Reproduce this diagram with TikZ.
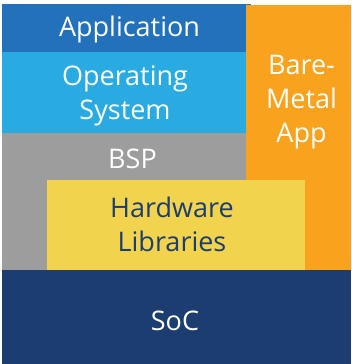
\documentclass[tikz,border=0pt]{standalone}
\usepackage{fontspec}
\setmainfont{Open Sans}
\definecolor{appblue}{HTML}{2271BA}
\definecolor{osblue}{HTML}{29ABE2}
\definecolor{bspgray}{HTML}{9D9D9D}
\definecolor{bareorange}{HTML}{F8A21D}
\definecolor{hwyellow}{HTML}{F2D34D}
\definecolor{socnavy}{HTML}{1C3D6F}
\begin{document}
\begin{tikzpicture}[x=1pt,y=1pt,
  label text/.style={anchor=base, align=center, inner sep=0pt,
    font=\fontsize{27}{34}\selectfont, text=white}]
\useasboundingbox (0,0) rectangle (352,364);
% layer blocks
\fill[appblue]    (2,312)   rectangle (251,360);
\fill[osblue]     (2,231)   rectangle (246,312);
\fill[bspgray]    (2,94)    rectangle (246,231);
\fill[bareorange] (246,94)  rectangle (351,359);
\fill[hwyellow]   (47,94)   rectangle (305,184);
\fill[socnavy]    (2,0)     rectangle (351,94);
% labels (multi-line nodes sit on the baseline of their last line)
\node[label text] (app)  at (129.5,327) {Application};
\node[label text] (os)   at (125,244)   {Operating\\System};
\node[label text] (bsp)  at (132.5,195) {BSP};
\node[label text] (bare) at (301.5,221) {Bare-\\Metal\\App};
\node[label text, text=socnavy] (hw) at (172,112) {Hardware\\Libraries};
\node[label text] (soc)  at (175,33)    {SoC};
\end{tikzpicture}
\end{document}
